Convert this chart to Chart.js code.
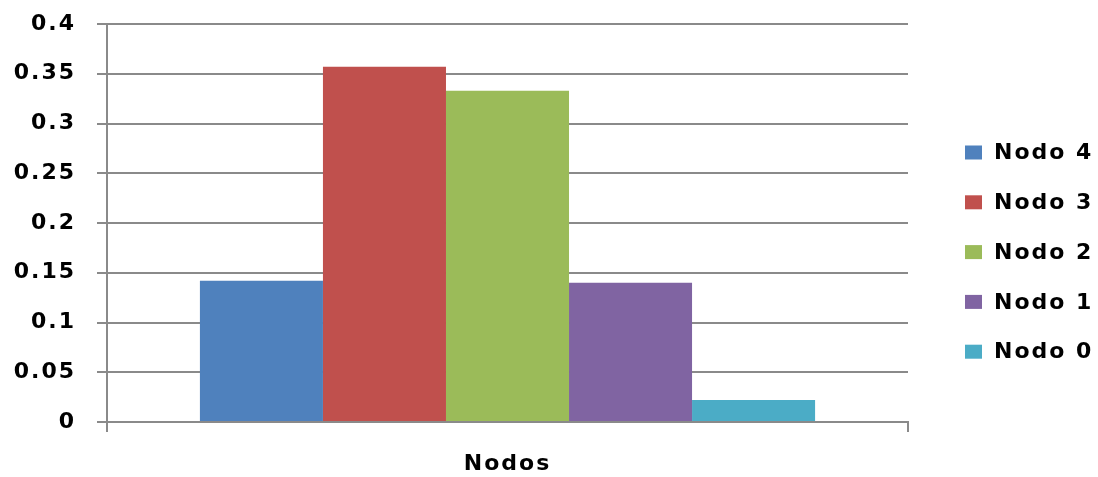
<!DOCTYPE html>
<html>
<head>
<meta charset="utf-8">
<title>Nodos</title>
<script src="https://cdn.jsdelivr.net/npm/chart.js@4.4.1/dist/chart.umd.min.js"></script>
<style>
  html, body { margin: 0; padding: 0; background: #ffffff; }
  #wrap { position: relative; width: 1098px; height: 477px; }
</style>
</head>
<body>
<div id="wrap"><canvas id="chart"></canvas></div>
<script>
// Data
const categories = [''];
const seriesNames = ['Nodo 4', 'Nodo 3', 'Nodo 2', 'Nodo 1', 'Nodo 0'];
const seriesValues = [0.142, 0.357, 0.333, 0.140, 0.022];
const yTickValues = [0, 0.05, 0.1, 0.15, 0.2, 0.25, 0.3, 0.35, 0.4];
const axisTitle = 'Nodos';

// Styles
const seriesColors = ['#4F81BD', '#C0504D', '#9BBB59', '#8064A2', '#4BACC6'];
const gridColor = '#8a8a8a';
const textFont = { family: '"DejaVu Sans", Verdana, sans-serif', size: 22, weight: 'bold' };
const spacing = '2px';

Chart.defaults.font.family = textFont.family;
Chart.defaults.color = '#000000';

// Letter spacing for all canvas text
const spacingPlugin = {
  id: 'spacing',
  beforeLayout(chart) { chart.ctx.letterSpacing = spacing; },
  beforeDraw(chart) { chart.ctx.letterSpacing = spacing; }
};

// Legend to the right of the plot, one row per series, plus the
// short tick below the left end of the category axis
const sideLegend = {
  id: 'sideLegend',
  afterDraw(chart) {
    const ctx = chart.ctx;
    const area = chart.chartArea;
    ctx.save();
    ctx.strokeStyle = gridColor;
    ctx.lineWidth = 2;
    ctx.beginPath();
    ctx.moveTo(area.left, area.bottom);
    ctx.lineTo(area.left, area.bottom + 10);
    ctx.stroke();

    ctx.letterSpacing = spacing;
    ctx.font = 'bold 22px ' + textFont.family;
    ctx.textBaseline = 'middle';
    ctx.textAlign = 'left';
    chart.data.datasets.forEach((ds, i) => {
      const cy = 152.5 + i * 49.8;
      ctx.fillStyle = ds.backgroundColor;
      ctx.fillRect(965, cy - 7, 17, 14);
      ctx.fillStyle = '#000000';
      ctx.fillText(ds.label, 994, cy + 1);
    });
    ctx.restore();
  }
};

new Chart(document.getElementById('chart'), {
  type: 'bar',
  data: {
    labels: categories,
    datasets: seriesNames.map((name, i) => ({
      label: name,
      data: [seriesValues[i]],
      backgroundColor: seriesColors[i],
      borderWidth: 0,
      barPercentage: 1,
      categoryPercentage: 0.768
    }))
  },
  options: {
    responsive: true,
    maintainAspectRatio: false,
    animation: false,
    layout: { padding: { top: 24, right: 190, bottom: 0, left: 0 } },
    plugins: {
      legend: { display: false },
      tooltip: { enabled: false }
    },
    scales: {
      x: {
        offset: true,
        grid: {
          display: true,
          offset: true,
          drawOnChartArea: false,
          drawTicks: true,
          tickLength: 10,
          color: gridColor,
          lineWidth: 2
        },
        border: { display: true, color: gridColor, width: 2 },
        ticks: { display: false },
        title: {
          display: true,
          text: axisTitle,
          font: textFont,
          color: '#000000',
          padding: { top: 0, bottom: 0 }
        },
        afterFit(scale) { scale.height = 55; }
      },
      y: {
        min: 0,
        max: 0.4,
        afterBuildTicks(scale) {
          scale.ticks = yTickValues.map(v => ({ value: v }));
        },
        grid: {
          color: gridColor,
          lineWidth: 2,
          tickLength: 10
        },
        border: { display: true, color: gridColor, width: 2 },
        ticks: {
          font: textFont,
          color: '#000000',
          padding: 21,
          callback: (v) => String(Number(Number(v).toFixed(2)))
        },
        afterFit(scale) {
          scale.width = 107;
          scale.paddingTop = 0;
          scale.paddingBottom = 0;
        }
      }
    }
  },
  plugins: [spacingPlugin, sideLegend]
});
</script>
</body>
</html>
